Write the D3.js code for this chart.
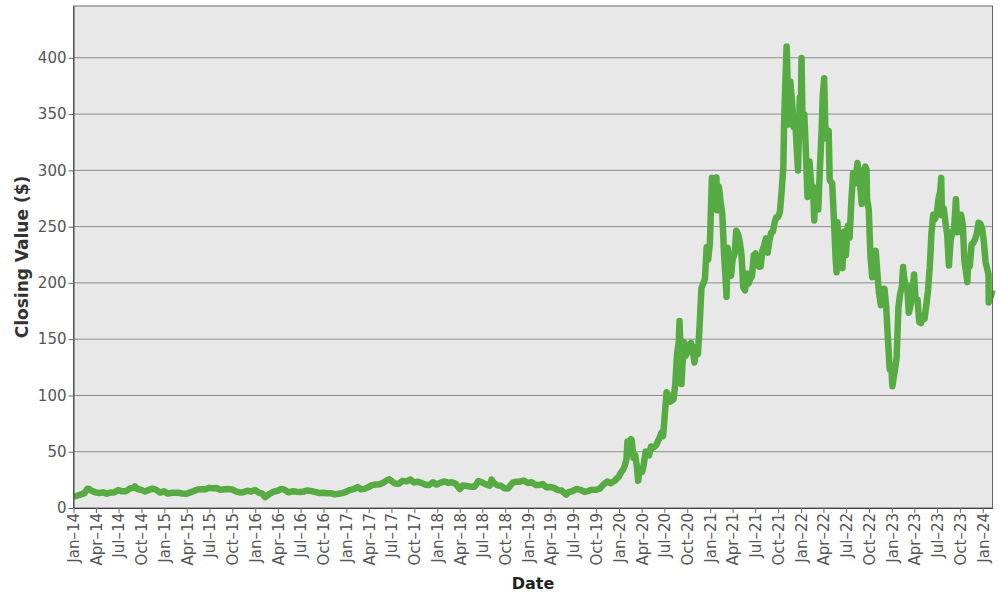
<!DOCTYPE html>
<html>
<head>
<meta charset="utf-8">
<script src="https://cdn.jsdelivr.net/npm/d3@7"></script>
<style>
  body { margin: 0; background: #fff; }
  svg { display: block; font-family: 'DejaVu Sans', sans-serif; }
</style>
</head>
<body>
<div id="chart"></div>
<script>
// closing values ($, split adjusted), [date, close]
const close2014 = [
  ['2014-01-02', 10.0], ['2014-01-15', 10.9], ['2014-01-31', 12.1], ['2014-02-14', 13.2],
  ['2014-02-26', 17.0], ['2014-03-05', 16.8], ['2014-03-14', 15.3], ['2014-03-31', 13.9],
  ['2014-04-15', 13.3], ['2014-04-30', 13.9], ['2014-05-15', 12.6], ['2014-05-30', 13.8],
  ['2014-06-13', 13.7], ['2014-06-30', 16.0], ['2014-07-15', 14.8], ['2014-07-31', 14.9],
  ['2014-08-15', 17.3], ['2014-08-29', 17.9], ['2014-09-04', 19.1], ['2014-09-15', 16.9],
  ['2014-09-30', 16.1], ['2014-10-15', 14.7], ['2014-10-31', 16.1], ['2014-11-14', 17.2],
  ['2014-11-28', 16.3], ['2014-12-15', 13.7], ['2014-12-31', 14.8]
]
const close2015 = [
  ['2015-01-15', 12.8], ['2015-01-30', 13.5], ['2015-02-13', 13.6], ['2015-02-27', 13.5],
  ['2015-03-13', 12.9], ['2015-03-31', 12.6], ['2015-04-15', 13.9], ['2015-04-30', 15.1],
  ['2015-05-15', 16.5], ['2015-05-29', 16.7], ['2015-06-15', 16.7], ['2015-06-30', 17.9],
  ['2015-07-15', 17.5], ['2015-07-31', 17.7], ['2015-08-14', 16.1], ['2015-08-31', 16.6],
  ['2015-09-15', 16.9], ['2015-09-30', 16.5], ['2015-10-15', 14.7], ['2015-10-30', 13.8],
  ['2015-11-13', 13.9], ['2015-11-30', 15.3], ['2015-12-15', 14.7], ['2015-12-31', 16.0]
]
const close2016 = [
  ['2016-01-15', 13.6], ['2016-01-29', 12.7], ['2016-02-10', 9.6], ['2016-02-29', 12.7],
  ['2016-03-15', 14.5], ['2016-03-31', 15.3], ['2016-04-15', 16.9], ['2016-04-29', 16.0],
  ['2016-05-13', 13.9], ['2016-05-31', 14.9], ['2016-06-15', 14.5], ['2016-06-30', 14.2],
  ['2016-07-15', 14.7], ['2016-07-29', 15.6], ['2016-08-15', 15.0], ['2016-08-31', 14.1],
  ['2016-09-15', 13.3], ['2016-09-30', 13.6], ['2016-10-14', 13.1], ['2016-10-31', 13.2],
  ['2016-11-15', 12.2], ['2016-11-30', 12.6], ['2016-12-15', 13.2], ['2016-12-30', 14.3]
]
const close2017 = [
  ['2017-01-13', 15.9], ['2017-01-31', 16.8], ['2017-02-15', 18.6], ['2017-02-28', 16.7],
  ['2017-03-15', 17.0], ['2017-03-31', 18.6], ['2017-04-14', 20.3], ['2017-04-28', 20.9],
  ['2017-05-15', 21.1], ['2017-05-31', 22.7], ['2017-06-15', 25.0], ['2017-06-23', 25.5],
  ['2017-06-30', 24.1], ['2017-07-14', 21.8], ['2017-07-31', 21.6], ['2017-08-15', 24.1],
  ['2017-08-31', 23.7], ['2017-09-15', 25.3], ['2017-09-29', 22.7], ['2017-10-16', 23.4],
  ['2017-10-31', 22.1], ['2017-11-15', 20.7], ['2017-11-30', 20.5], ['2017-12-15', 22.9],
  ['2017-12-29', 20.8]
]
const close2018 = [
  ['2018-01-12', 22.4], ['2018-01-31', 23.6], ['2018-02-15', 22.3], ['2018-02-28', 22.9],
  ['2018-03-15', 21.7], ['2018-03-29', 17.8], ['2018-04-02', 16.8], ['2018-04-13', 20.0],
  ['2018-04-30', 19.6], ['2018-05-15', 18.9], ['2018-05-31', 18.9], ['2018-06-15', 23.9],
  ['2018-06-29', 22.8], ['2018-07-13', 21.2], ['2018-07-31', 19.9], ['2018-08-07', 25.3],
  ['2018-08-15', 22.5], ['2018-08-31', 20.1], ['2018-09-14', 19.7], ['2018-09-28', 17.6],
  ['2018-10-12', 17.3], ['2018-10-31', 22.5], ['2018-11-15', 23.3], ['2018-11-30', 23.4],
  ['2018-12-14', 24.4], ['2018-12-31', 22.2]
]
const close2019 = [
  ['2019-01-15', 22.9], ['2019-01-31', 20.5], ['2019-02-15', 20.5], ['2019-02-28', 21.3],
  ['2019-03-15', 18.4], ['2019-03-29', 18.7], ['2019-04-15', 17.9], ['2019-04-30', 15.9],
  ['2019-05-15', 15.5], ['2019-05-31', 12.4], ['2019-06-03', 11.9], ['2019-06-14', 14.3],
  ['2019-06-28', 14.9], ['2019-07-15', 16.9], ['2019-07-31', 16.1], ['2019-08-15', 14.3],
  ['2019-08-30', 15.0], ['2019-09-13', 16.3], ['2019-09-30', 16.1], ['2019-10-15', 17.1],
  ['2019-10-31', 21.0], ['2019-11-15', 23.5], ['2019-11-29', 22.0], ['2019-12-13', 23.9],
  ['2019-12-31', 27.9]
]
const close2020 = [
  ['2020-01-02', 28.7], ['2020-01-10', 31.9], ['2020-01-17', 34.0], ['2020-01-24', 37.6],
  ['2020-01-31', 43.4], ['2020-02-04', 59.1], ['2020-02-07', 49.9], ['2020-02-14', 53.5],
  ['2020-02-19', 61.2], ['2020-02-21', 60.1], ['2020-02-28', 44.5], ['2020-03-06', 47.0],
  ['2020-03-13', 36.4], ['2020-03-18', 24.1], ['2020-03-20', 28.5], ['2020-03-27', 34.3],
  ['2020-04-03', 32.1], ['2020-04-09', 38.2], ['2020-04-17', 50.1], ['2020-04-24', 48.3],
  ['2020-05-01', 46.8], ['2020-05-08', 54.6], ['2020-05-15', 53.3], ['2020-05-22', 54.5],
  ['2020-05-29', 55.7], ['2020-06-05', 59.3], ['2020-06-12', 62.4], ['2020-06-19', 66.7],
  ['2020-06-26', 63.9], ['2020-07-02', 80.6], ['2020-07-10', 102.9], ['2020-07-17', 100.4],
  ['2020-07-24', 94.5], ['2020-07-31', 95.4], ['2020-08-07', 96.7], ['2020-08-14', 110.0],
  ['2020-08-21', 136.7], ['2020-08-28', 147.6], ['2020-08-31', 166.1], ['2020-09-04', 138.5],
  ['2020-09-08', 110.1], ['2020-09-11', 124.2], ['2020-09-18', 147.4], ['2020-09-25', 135.3],
  ['2020-10-02', 138.4], ['2020-10-09', 144.7], ['2020-10-16', 146.7], ['2020-10-23', 140.3],
  ['2020-10-30', 129.3], ['2020-11-06', 143.1], ['2020-11-13', 136.7], ['2020-11-20', 163.2],
  ['2020-11-27', 195.3], ['2020-12-04', 199.3], ['2020-12-11', 203.3], ['2020-12-18', 231.7],
  ['2020-12-24', 220.6], ['2020-12-31', 235.2]
]
const close2021 = [
  ['2021-01-08', 293.3], ['2021-01-15', 275.4], ['2021-01-22', 282.2], ['2021-01-26', 293.6],
  ['2021-01-29', 264.5], ['2021-02-05', 285.7], ['2021-02-12', 272.0], ['2021-02-19', 260.9],
  ['2021-02-26', 225.2], ['2021-03-05', 199.3], ['2021-03-08', 187.7], ['2021-03-12', 231.2],
  ['2021-03-19', 218.3], ['2021-03-26', 206.2], ['2021-04-01', 220.6], ['2021-04-09', 225.7],
  ['2021-04-16', 246.3], ['2021-04-23', 243.2], ['2021-04-30', 236.5], ['2021-05-07', 224.7],
  ['2021-05-14', 196.0], ['2021-05-21', 193.3], ['2021-05-28', 208.4], ['2021-06-04', 199.3],
  ['2021-06-11', 203.3], ['2021-06-18', 206.0], ['2021-06-25', 224.5], ['2021-07-02', 226.2],
  ['2021-07-09', 219.6], ['2021-07-16', 214.4], ['2021-07-23', 214.6], ['2021-07-30', 229.1],
  ['2021-08-06', 233.3], ['2021-08-13', 239.5], ['2021-08-20', 226.8], ['2021-08-27', 237.1],
  ['2021-09-03', 244.7], ['2021-09-10', 245.4], ['2021-09-17', 253.9], ['2021-09-24', 258.4],
  ['2021-10-01', 258.4], ['2021-10-08', 262.6], ['2021-10-15', 281.0], ['2021-10-22', 303.2],
  ['2021-10-25', 341.6], ['2021-10-29', 371.3], ['2021-11-04', 410.0], ['2021-11-05', 407.4],
  ['2021-11-10', 355.7], ['2021-11-12', 340.8], ['2021-11-19', 379.0], ['2021-11-26', 360.6],
  ['2021-12-03', 338.3], ['2021-12-10', 339.0], ['2021-12-17', 310.9], ['2021-12-20', 299.9],
  ['2021-12-27', 364.6], ['2021-12-31', 352.3]
]
const close2022 = [
  ['2022-01-03', 399.9], ['2022-01-07', 342.3], ['2022-01-14', 349.9], ['2022-01-21', 314.6],
  ['2022-01-27', 276.4], ['2022-01-28', 282.1], ['2022-02-04', 307.8], ['2022-02-11', 287.0],
  ['2022-02-18', 285.7], ['2022-02-23', 255.5], ['2022-02-25', 269.9], ['2022-03-04', 279.0],
  ['2022-03-11', 265.1], ['2022-03-18', 302.3], ['2022-03-25', 337.0], ['2022-03-29', 365.3],
  ['2022-04-04', 381.8], ['2022-04-08', 341.8], ['2022-04-14', 328.3], ['2022-04-22', 335.0],
  ['2022-04-26', 292.0], ['2022-04-29', 290.3], ['2022-05-06', 288.6], ['2022-05-13', 257.0],
  ['2022-05-20', 221.3], ['2022-05-24', 209.4], ['2022-05-27', 253.9], ['2022-06-03', 234.0],
  ['2022-06-10', 232.2], ['2022-06-16', 213.1], ['2022-06-24', 245.7], ['2022-06-30', 224.5],
  ['2022-07-08', 250.8], ['2022-07-15', 240.1], ['2022-07-22', 272.2], ['2022-07-29', 297.1],
  ['2022-08-05', 288.2], ['2022-08-12', 300.0], ['2022-08-16', 306.6], ['2022-08-19', 296.7],
  ['2022-08-26', 288.1], ['2022-09-02', 270.2], ['2022-09-09', 299.7], ['2022-09-16', 303.4],
  ['2022-09-21', 300.8], ['2022-09-23', 275.3], ['2022-09-30', 265.3], ['2022-10-07', 223.1],
  ['2022-10-14', 205.0], ['2022-10-21', 214.4], ['2022-10-28', 228.5], ['2022-11-04', 207.5],
  ['2022-11-10', 191.3], ['2022-11-18', 180.2], ['2022-11-25', 182.9], ['2022-12-02', 194.9],
  ['2022-12-09', 179.1], ['2022-12-16', 150.2], ['2022-12-23', 123.2], ['2022-12-30', 123.2]
]
const close2023 = [
  ['2023-01-03', 108.1], ['2023-01-06', 113.1], ['2023-01-13', 122.4], ['2023-01-20', 133.4],
  ['2023-01-27', 177.9], ['2023-02-03', 190.0], ['2023-02-10', 196.9], ['2023-02-15', 214.2],
  ['2023-02-17', 208.3], ['2023-02-24', 196.9], ['2023-03-03', 197.8], ['2023-03-10', 173.4],
  ['2023-03-17', 180.1], ['2023-03-24', 190.4], ['2023-03-31', 207.5], ['2023-04-06', 185.1],
  ['2023-04-14', 185.0], ['2023-04-21', 165.1], ['2023-04-28', 164.3], ['2023-05-05', 170.1],
  ['2023-05-12', 168.0], ['2023-05-19', 180.1], ['2023-05-26', 193.2], ['2023-06-02', 214.0],
  ['2023-06-09', 244.4], ['2023-06-16', 260.5], ['2023-06-23', 256.6], ['2023-06-30', 261.8],
  ['2023-07-07', 274.4], ['2023-07-14', 281.4], ['2023-07-18', 293.3], ['2023-07-21', 260.0],
  ['2023-07-28', 266.4], ['2023-08-04', 253.9], ['2023-08-11', 242.7], ['2023-08-18', 215.5],
  ['2023-08-25', 238.6], ['2023-09-01', 245.0], ['2023-09-08', 248.5], ['2023-09-15', 274.4],
  ['2023-09-22', 244.9], ['2023-09-29', 250.2], ['2023-10-06', 260.5], ['2023-10-13', 251.1],
  ['2023-10-19', 220.1], ['2023-10-27', 207.3], ['2023-10-31', 200.8], ['2023-11-03', 220.0],
  ['2023-11-10', 214.7], ['2023-11-17', 234.3], ['2023-11-24', 235.5], ['2023-12-01', 238.8],
  ['2023-12-08', 243.8], ['2023-12-15', 253.5], ['2023-12-22', 252.5], ['2023-12-29', 248.5]
]
const close2024 = [
  ['2024-01-05', 237.5], ['2024-01-12', 218.9], ['2024-01-19', 212.2], ['2024-01-24', 207.8],
  ['2024-01-25', 182.6], ['2024-01-26', 183.3], ['2024-02-02', 187.9], ['2024-02-09', 193.6]
]

const yTicks = [0, 50, 100, 150, 200, 250, 300, 350, 400]
const xLabel = 'Date'
const yLabel = 'Closing Value ($)'

const margin = { top: 6, left: 73.5, right: 7.5, bottom: 92 }
const width = 1000 - margin.left - margin.right
const height = 600 - margin.top - margin.bottom

const parse = d3.timeParse('%Y-%m-%d')
const data = [].concat(
  close2014, close2015, close2016, close2017, close2018,
  close2019, close2020, close2021, close2022, close2023, close2024
).map(d => ({ date: parse(d[0]), close: d[1] }))

const svg = d3
  .select('#chart')
  .append('svg')
  .attr('width', 1000)
  .attr('height', 600)

const g = svg
  .append('g')
  .attr('transform', 'translate(' + margin.left + ',' + margin.top + ')')

const xScale = d3
  .scaleTime()
  .domain([parse('2014-01-01'), d3.max(data, d => d.date)])
  .range([0, width])

const yScale = d3
  .scaleLinear()
  .domain([0, 446])
  .range([height, 0])

// panel background
g.append('rect')
  .attr('width', width)
  .attr('height', height)
  .attr('fill', '#e8e8e8')

// horizontal grid
g.selectAll('.grid')
  .data(yTicks.slice(1))
  .enter()
  .append('line')
  .attr('class', 'grid')
  .attr('x1', 0)
  .attr('x2', width)
  .attr('y1', d => yScale(d))
  .attr('y2', d => yScale(d))
  .attr('stroke', '#8c8c8c')
  .attr('stroke-width', 1)

const line = d3
  .line()
  .x(d => xScale(d.date))
  .y(d => yScale(d.close))

g.append('path')
  .datum(data)
  .attr('d', line)
  .attr('fill', 'none')
  .attr('stroke', '#56ab43')
  .attr('stroke-width', 6.5)
  .attr('stroke-linejoin', 'round')

// frame
g.append('rect')
  .attr('width', width)
  .attr('height', height)
  .attr('fill', 'none')
  .attr('stroke', '#666')
  .attr('stroke-width', 1)

const yAxis = g
  .append('g')
  .call(d3.axisLeft(yScale).tickValues(yTicks).tickSize(5).tickSizeOuter(0).tickPadding(2))
yAxis.select('.domain').attr('stroke', '#444')
yAxis.selectAll('.tick line').attr('stroke', '#666')
yAxis.selectAll('text')
  .attr('font-size', 15)
  .attr('fill', '#555')
  .attr('font-family', 'DejaVu Sans')

const xAxis = g
  .append('g')
  .attr('transform', 'translate(0,' + height + ')')
  .call(
    d3.axisBottom(xScale)
      .ticks(d3.timeMonth.every(3))
      .tickFormat(d3.timeFormat('%b\u2013%y'))
      .tickSize(5)
      .tickSizeOuter(0)
  )
xAxis.select('.domain').attr('stroke', '#444')
xAxis.selectAll('.tick line').attr('stroke', '#666')
xAxis.selectAll('text')
  .attr('font-size', 15)
  .attr('fill', '#555')
  .attr('font-family', 'DejaVu Sans')
  .attr('text-anchor', 'end')
  .attr('transform', 'rotate(-90)')
  .attr('x', -5)
  .attr('y', 0)
  .attr('dy', '0.36em')

svg.append('text')
  .attr('x', margin.left + width / 2)
  .attr('y', 589)
  .attr('text-anchor', 'middle')
  .attr('font-size', 16)
  .attr('font-weight', 'bold')
  .attr('fill', '#222')
  .text(xLabel)

svg.append('text')
  .attr('transform', 'translate(28,' + (margin.top + height / 2) + ') rotate(-90)')
  .attr('text-anchor', 'middle')
  .attr('font-size', 17)
  .attr('font-weight', 'bold')
  .attr('fill', '#333')
  .text(yLabel)
</script>
</body>
</html>
